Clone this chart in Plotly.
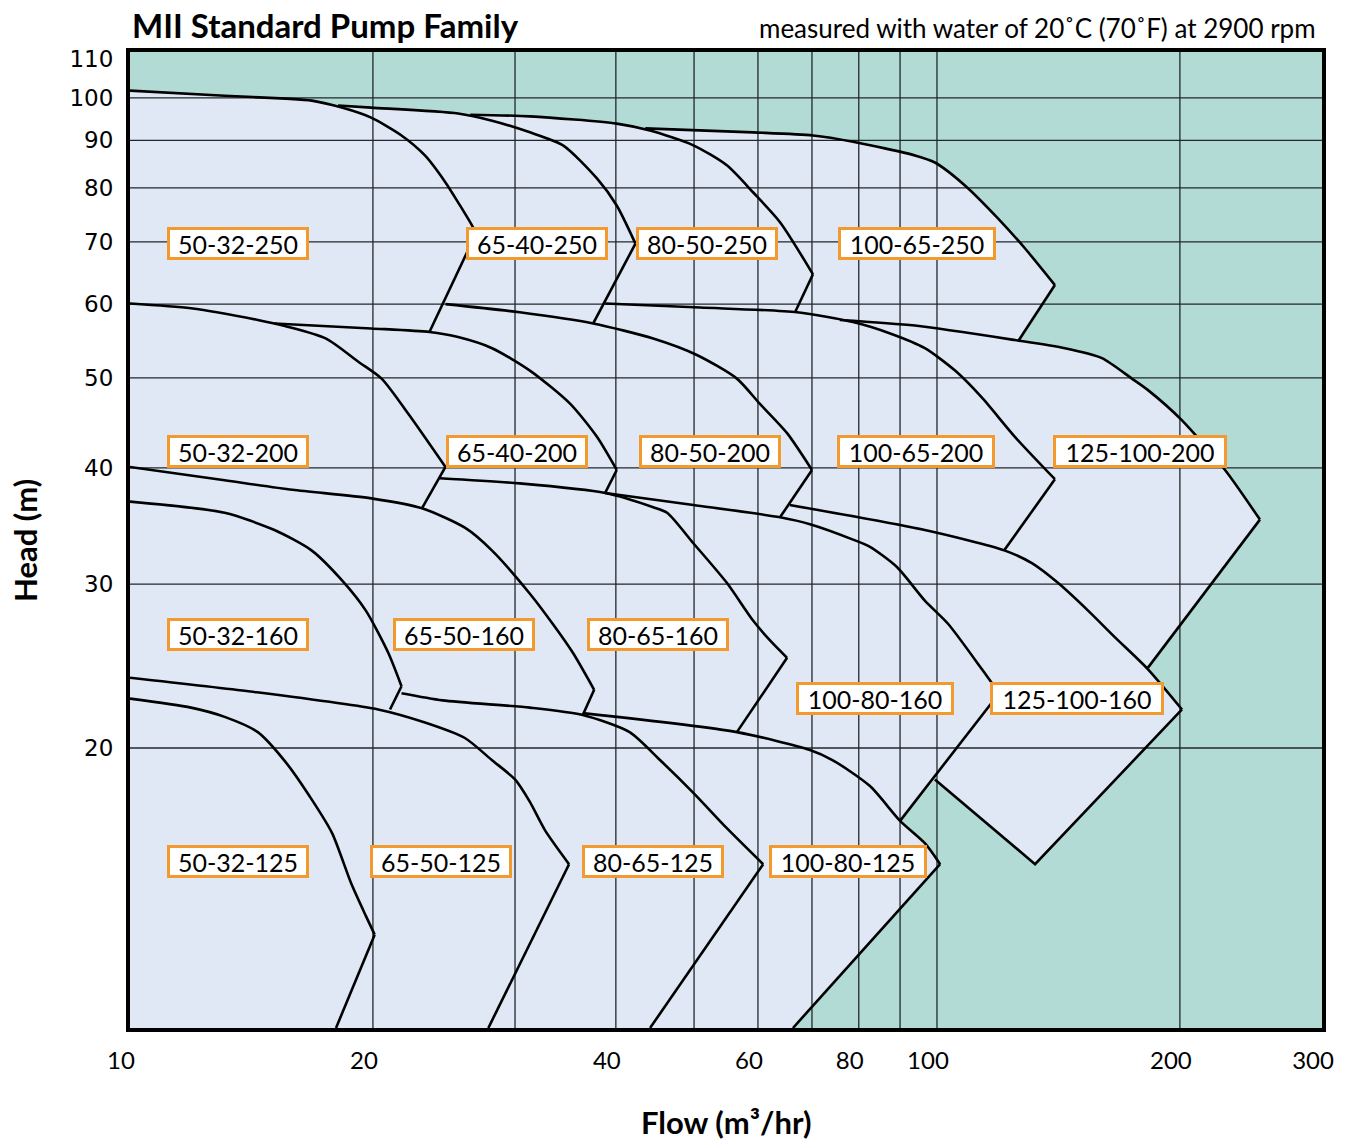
import numpy as np
import plotly.graph_objects as go

# ---------------- data (flow m3/hr, head m) ----------------
# each array: max-impeller curve up to its tip, then the end-of-curve edge
Q_50_32_250 = [10, 13.1, 15.6, 16.8, 18.3, 19.9, 21.7, 23.2, 24.6, 25.5, 26.6, 26.8, 23.5]
H_50_32_250 = [101.8, 100.5, 99.8, 99.3, 97.6, 95.2, 91.1, 86.7, 81.1, 77.2, 72.6, 71.3, 56.0]
Q_65_40_250 = [18.1, 19.9, 25.5, 28.1, 31.3, 34.4, 37.9, 40.1, 42.3, 37.5]
H_65_40_250 = [98.1, 97.6, 96.2, 94.5, 91.8, 88.9, 81.9, 76.6, 69.7, 57.2]
Q_80_50_250 = [26.4, 31.3, 40.1, 44.1, 49.9, 54.9, 59.2, 63.9, 70.2, 66.7]
H_80_50_250 = [95.9, 95.5, 93.8, 92.2, 88.9, 84.6, 79.1, 73.5, 64.6, 58.8]
Q_100_65_250 = [43.5, 59.2, 70.2, 78.7, 93.9, 99.4, 108.3, 119.0, 128.5, 140.0, 126.0]
H_100_65_250 = [92.7, 91.8, 91.1, 89.7, 86.7, 85.2, 80.5, 74.2, 68.9, 62.9, 54.7]

Q_50_32_200 = [10, 11.9, 14.4, 15.6, 17.5, 19.2, 20.5, 22.1, 24.6, 23.0]
H_50_32_200 = [60.1, 59.4, 57.7, 56.8, 55.1, 52.0, 49.9, 45.8, 40.1, 36.2]
Q_65_40_200 = [15.1, 19.9, 23.5, 25.5, 28.1, 31.3, 35.1, 37.9, 40.1, 38.8]
H_65_40_200 = [57.2, 56.5, 56.0, 55.3, 53.8, 50.9, 46.9, 43.2, 39.8, 37.6]
Q_80_50_200 = [24.6, 30.4, 37.5, 44.5, 50.4, 56.5, 60.3, 65.2, 70.0, 63.9]
H_80_50_200 = [60.0, 58.8, 57.2, 55.1, 52.9, 49.9, 46.9, 43.6, 39.8, 35.4]
Q_100_65_200 = [38.8, 50.9, 67.1, 78.7, 87.5, 96.6, 105.3, 113.7, 124.9, 140.0, 121.1]
H_100_65_200 = [60.1, 59.5, 58.8, 57.4, 55.8, 53.8, 50.9, 47.6, 43.2, 38.9, 32.6]
Q_125_100_200 = [75.8, 93.9, 124.9, 144.1, 160.1, 174.4, 182.6, 201.2, 227.5, 251.3, 182.6]
H_125_100_200 = [57.7, 56.9, 54.9, 53.8, 52.5, 49.9, 48.5, 45.0, 39.8, 35.2, 24.4]

Q_50_32_160 = [10, 13.1, 15.1, 16.8, 18.3, 19.6, 20.9, 21.7, 21.0]
H_50_32_160 = [36.8, 35.8, 34.3, 32.6, 30.3, 28.1, 25.3, 23.3, 22.0]
Q_65_50_160 = [10, 13.1, 15.9, 19.9, 23.0, 26.0, 28.1, 31.3, 33.4, 35.4, 37.6, 36.4]
H_65_50_160 = [40.1, 38.8, 37.9, 37.1, 36.2, 34.5, 32.6, 29.3, 27.2, 25.3, 23.1, 21.7]
Q_80_65_160 = [24.2, 30.4, 38.8, 44.5, 46.3, 49.9, 54.9, 59.2, 62.1, 65.2, 56.5]
H_80_65_160 = [39.0, 38.5, 37.6, 36.3, 35.8, 33.2, 30.1, 27.4, 26.1, 25.0, 20.8]
Q_100_80_160 = [38.8, 49.9, 63.9, 69.6, 78.7, 82.6, 89.2, 96.6, 103.2, 113.7, 119.4, 90.0]
H_100_80_160 = [37.6, 36.5, 35.4, 34.8, 33.5, 32.9, 31.3, 28.8, 27.2, 24.3, 22.9, 16.7]
Q_125_100_160 = [65.7, 96.6, 121.4, 131.1, 141.2, 153.9, 166.2, 182.6, 201.2, 132.3, 99.4]
H_125_100_160 = [36.5, 34.3, 32.6, 31.6, 30.1, 28.1, 26.3, 24.3, 22.0, 15.0, 18.5]

Q_50_32_125 = [10, 11.9, 13.1, 14.4, 15.6, 16.8, 17.8, 18.8, 19.6, 20.1, 18.0]
H_50_32_125 = [22.6, 22.1, 21.6, 20.8, 19.3, 17.6, 16.2, 14.3, 13.2, 12.6, 10.0]
Q_65_50_125 = [10, 14.1, 20.3, 23.2, 26.0, 28.1, 30.0, 31.3, 32.7, 35.0, 27.8]
H_65_50_125 = [23.8, 23.0, 22.0, 21.3, 20.5, 19.4, 18.5, 17.5, 16.3, 15.0, 10.0]
Q_80_65_125 = [21.7, 24.4, 31.3, 36.4, 41.6, 45.4, 49.9, 54.9, 60.9, 44.1]
H_80_65_125 = [22.9, 22.5, 22.1, 21.7, 20.8, 19.4, 17.9, 16.4, 15.0, 10.0]
Q_100_80_125 = [36.4, 56.5, 69.6, 74.3, 82.6, 90.0, 96.6, 100.9, 66.3]
H_100_80_125 = [21.8, 20.8, 19.9, 19.4, 18.2, 16.7, 15.8, 15.0, 10.0]

LABELS = ['50-32-250', '65-40-250', '80-50-250', '100-65-250',
          '50-32-200', '65-40-200', '80-50-200', '100-65-200', '125-100-200',
          '50-32-160', '65-50-160', '80-65-160', '100-80-160', '125-100-160',
          '50-32-125', '65-50-125', '80-65-125', '100-80-125']
LABEL_Q = [13.6, 31.9, 51.9, 94.5, 13.6, 30.2, 52.3, 94.2, 178.5,
           13.6, 25.9, 45.1, 83.8, 149.1, 13.6, 24.3, 44.5, 77.6]
LABEL_H = [69.7, 69.7, 69.7, 69.7, 41.7, 41.7, 41.7, 41.7, 41.7,
           26.5, 26.5, 26.5, 22.6, 22.6, 15.1, 15.1, 15.1, 15.1]

X_TICKS = [10, 20, 40, 60, 80, 100, 200, 300]
Y_TICKS = [20, 30, 40, 50, 60, 70, 80, 90, 100, 110]
X_GRID = [20, 30, 40, 50, 60, 70, 80, 90, 100, 200]
Y_GRID = [20, 30, 40, 50, 60, 70, 80, 90, 100]
X_MIN, X_MAX = 10, 300
Y_MIN, Y_MAX = 10, 112

CURVES = [
    (Q_50_32_250, H_50_32_250), (Q_65_40_250, H_65_40_250), (Q_80_50_250, H_80_50_250),
    (Q_100_65_250, H_100_65_250), (Q_50_32_200, H_50_32_200), (Q_65_40_200, H_65_40_200),
    (Q_80_50_200, H_80_50_200), (Q_100_65_200, H_100_65_200), (Q_125_100_200, H_125_100_200),
    (Q_50_32_160, H_50_32_160), (Q_65_50_160, H_65_50_160), (Q_80_65_160, H_80_65_160),
    (Q_100_80_160, H_100_80_160), (Q_125_100_160, H_125_100_160), (Q_50_32_125, H_50_32_125),
    (Q_65_50_125, H_65_50_125), (Q_80_65_125, H_80_65_125), (Q_100_80_125, H_100_80_125),
]

TEAL = '#b3dbd6'
PALE = '#dfe8f4'
ORANGE = '#f39a2e'
FONT = 'Lato'


def pts(q, h, a=0, b=None):
    return list(zip(q[a:b], h[a:b]))


# outer envelope of all operating regions (light fill)
env = (pts(Q_50_32_250, H_50_32_250, 0, 4)
       + pts(Q_65_40_250, H_65_40_250, 0, 3)
       + pts(Q_80_50_250, H_80_50_250, 0, 3)
       + pts(Q_100_65_250, H_100_65_250)
       + [p for p in pts(Q_125_100_200, H_125_100_200) if p[0] > 130]
       + pts(Q_125_100_160, H_125_100_160, -4)
       + pts(Q_100_80_125, H_100_80_125, -4)
       + [(X_MIN, Y_MIN), (X_MIN, H_50_32_250[0])])

fig = go.Figure()
fig.add_trace(go.Scatter(x=[p[0] for p in env], y=[p[1] for p in env], mode='lines',
                         fill='toself', fillcolor=PALE, line=dict(width=0),
                         hoverinfo='skip', showlegend=False))

# grid lines drawn above the fill
gx, gy = [], []
for v in X_GRID:
    gx += [v, v, None]
    gy += [Y_MIN, Y_MAX, None]
for v in Y_GRID:
    gx += [X_MIN, X_MAX, None]
    gy += [v, v, None]
fig.add_trace(go.Scatter(x=gx, y=gy, mode='lines', line=dict(color='#22272b', width=1.3),
                         hoverinfo='skip', showlegend=False))

# pump curves: smooth curve to the tip, straight edge after it
for q, h in CURVES:
    t = int(np.argmax(q))
    fig.add_trace(go.Scatter(x=q[:t + 1], y=h[:t + 1], mode='lines',
                             line=dict(color='black', width=2.6, shape='spline', smoothing=0.7),
                             hoverinfo='skip', showlegend=False))
    fig.add_trace(go.Scatter(x=q[t:], y=h[t:], mode='lines',
                             line=dict(color='black', width=2.6),
                             hoverinfo='skip', showlegend=False))

annotations = []
for name, q, h in zip(LABELS, LABEL_Q, LABEL_H):
    annotations.append(dict(
        x=np.log10(q), y=np.log10(h), xref='x', yref='y', text=name, showarrow=False,
        font=dict(family=FONT, size=25, color='black'),
        bgcolor='white', bordercolor=ORANGE, borderwidth=3, borderpad=0,
        width=136 + 16 * (len(name) - 9), height=27, align='center'))

annotations += [
    dict(x=0, y=1.0277, xref='paper', yref='paper', xanchor='left', yanchor='middle',
         text='<b>MII Standard Pump Family</b>', showarrow=False,
         font=dict(family=FONT, size=33, color='black')),
    dict(x=0.9966, y=1.0246, xref='paper', yref='paper', xanchor='right', yanchor='middle',
         text='measured with water of 20˚C (70˚F) at 2900 rpm', showarrow=False,
         font=dict(family=FONT, size=26, color='black')),
    dict(x=0.5, y=-0.0963, xref='paper', yref='paper', xanchor='center', yanchor='middle',
         text='<b>Flow (m³/hr)</b>', showarrow=False,
         font=dict(family=FONT, size=31, color='black')),
    dict(x=-0.0881, y=0.5, xref='paper', yref='paper', xanchor='center', yanchor='middle',
         text='<b>Head (m)</b>', textangle=-90, showarrow=False,
         font=dict(family=FONT, size=31, color='black')),
]

fig.update_layout(
    width=1349, height=1142,
    margin=dict(l=130, r=27, t=52, b=114, autoexpand=False),
    paper_bgcolor='white', plot_bgcolor=TEAL,
    showlegend=False,
    annotations=annotations,
    xaxis=dict(type='log', range=[np.log10(X_MIN), np.log10(X_MAX)], automargin=False,
               tickvals=X_TICKS, ticktext=[str(v) for v in X_TICKS],
               showgrid=False, zeroline=False,
               showline=True, linecolor='black', linewidth=4, mirror=True,
               ticks='outside', ticklen=8, tickcolor='rgba(0,0,0,0)', ticklabelshift=-9,
               tickfont=dict(family=FONT, size=24, color='black')),
    yaxis=dict(type='log', range=[np.log10(Y_MIN), np.log10(Y_MAX)], automargin=False,
               tickvals=Y_TICKS, ticktext=[str(v) for v in Y_TICKS],
               showgrid=False, zeroline=False,
               showline=True, linecolor='black', linewidth=4, mirror=True,
               ticks='outside', ticklen=8, tickcolor='rgba(0,0,0,0)',
               tickfont=dict(family='DejaVu Sans', size=23, color='black')),
)

fig.write_html('out.html', config={'displayModeBar': False},
               post_script="document.body.style.margin='0';document.body.style.padding='0';")
